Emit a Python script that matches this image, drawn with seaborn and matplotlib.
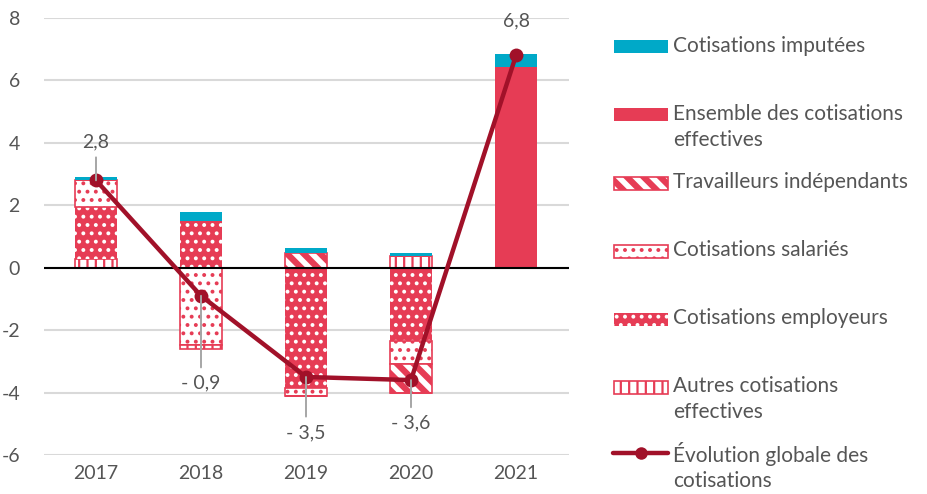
import matplotlib
matplotlib.use("Agg")
import matplotlib.pyplot as plt
import seaborn as sns
import numpy as np
from matplotlib.patches import Rectangle
from matplotlib.lines import Line2D

# values
years = ["2017", "2018", "2019", "2020", "2021"]
imputees = [0.10, 0.27, 0.17, 0.08, 0.41]
ensemble = [0.0, 0.0, 0.0, 0.0, 6.44]
travailleurs = [0.0, 0.0, 0.46, -0.91, 0.0]
salaries = [0.88, -2.47, -0.25, -0.75, 0.0]
employeurs = [1.65, 1.50, -3.85, -2.34, 0.0]
autres = [0.28, -0.13, 0.0, 0.38, 0.0]
evolution = [2.8, -0.9, -3.5, -3.6, 6.8]
evolution_labels = ["2,8", "- 0,9", "- 3,5", "- 3,6", "6,8"]
yticks = [-6, -4, -2, 0, 2, 4, 6, 8]

RED = "#E63C55"
CYAN = "#00A9C8"
DARK = "#A11129"
GREY_TXT = "#555555"

sns.set_theme(style="white")
plt.rcParams["font.family"] = ["Lato", "DejaVu Sans"]
plt.rcParams["hatch.linewidth"] = 1.6

W, H = 927, 494
fig = plt.figure(figsize=(W / 100, H / 100), dpi=100)
ax = fig.add_axes([43.5 / W, 1 - 455 / H, 525 / W, 437 / H])

# style per series: (values, face, edge, hatch, hatch width)
series = {
    "autres": (autres, "white", RED, "||", 1.6),
    "employeurs": (employeurs, RED, "white", "..", 1.6),
    "salaries": (salaries, "white", RED, "..", 1.6),
    "travailleurs": (travailleurs, "white", RED, "\\\\", 4.5),
    "ensemble": (ensemble, RED, RED, None, 1.6),
    "imputees": (imputees, CYAN, CYAN, None, 1.6),
}
pos_order = ["autres", "employeurs", "salaries", "travailleurs", "ensemble", "imputees"]
neg_order = ["employeurs", "salaries", "travailleurs", "autres"]

x = np.arange(len(years))
width = 0.4
pos_base = np.zeros(len(years))
neg_base = np.zeros(len(years))


def set_hw(artist, hw):
    if hasattr(artist, "set_hatch_linewidth"):
        artist.set_hatch_linewidth(hw)


def draw(name, vals, base):
    _, face, edge, hatch, hw = series[name]
    lw = 0 if face in (RED, CYAN) else 1.2
    with plt.rc_context({"hatch.linewidth": hw}):
        bars = ax.bar(x, vals, width, bottom=base, color=face, edgecolor=edge,
                      hatch=hatch, linewidth=lw, zorder=2)
    for b in bars:
        set_hw(b, hw)


for name in pos_order:
    v = np.clip(np.array(series[name][0]), 0, None)
    if v.any():
        draw(name, v, pos_base)
    pos_base += v
for name in neg_order:
    v = np.clip(np.array(series[name][0]), None, 0)
    if v.any():
        draw(name, v, neg_base)
    neg_base += v

sns.lineplot(x=x, y=evolution, ax=ax, color=DARK, linewidth=3.2, marker="o",
             markersize=10, markeredgewidth=0, zorder=4)

offsets = [(0, 28), (0, -63), (0, -40), (0, -31), (0, 25)]
for xi, yv, lab, off in zip(x, evolution, evolution_labels, offsets):
    ax.annotate(lab, (xi, yv), xytext=off, textcoords="offset points",
                ha="center", va="center", fontsize=14, color=GREY_TXT,
                arrowprops=dict(arrowstyle="-", color="#A6A6A6", lw=1.4,
                                shrinkA=3, shrinkB=0) if xi != 4 else None,
                zorder=5)

ax.set_xlim(-0.5, 4.5)
ax.set_ylim(-6, 8)
ax.set_yticks(yticks)
ax.set_yticklabels([str(t) for t in yticks])
ax.set_xticks(x)
ax.set_xticklabels(years)
ax.tick_params(axis="both", length=0, labelsize=14, colors=GREY_TXT)
ax.tick_params(axis="y", pad=17)
ax.tick_params(axis="x", pad=7)
ax.grid(axis="y", color="#D9D9D9", linewidth=1.5, zorder=0)
ax.set_axisbelow(True)
ax.axhline(0, color="black", linewidth=1.5, zorder=3)
for s in ax.spines.values():
    s.set_visible(False)

# legend drawn on the right
legend_items = [
    ("imputees", "Cotisations imputées"),
    ("ensemble", "Ensemble des cotisations\neffectives"),
    ("travailleurs", "Travailleurs indépendants"),
    ("salaries", "Cotisations salariés"),
    ("employeurs", "Cotisations employeurs"),
    ("autres", "Autres cotisations\neffectives"),
]
for i, (name, label) in enumerate(legend_items):
    yc = 47 + 68 * i
    _, face, edge, hatch, hw = series[name]
    if face == "white":
        fc, ec = "white", RED
    else:
        fc, ec = face, edge
    with plt.rc_context({"hatch.linewidth": hw}):
        r = Rectangle((614 / W, 1 - (yc + 6.5) / H), 54 / W, 13 / H,
                      transform=fig.transFigure, facecolor=fc, edgecolor=ec,
                      hatch=hatch, linewidth=0 if face != "white" else 1.2)
    set_hw(r, hw)
    fig.add_artist(r)
    fig.text(673 / W, 1 - (yc - 11) / H, label, fontsize=15, color=GREY_TXT,
             va="top", ha="left", linespacing=1.4)

yl = 453
fig.add_artist(Line2D([613 / W, 668 / W], [1 - yl / H] * 2, transform=fig.transFigure,
                      color=DARK, linewidth=3.2))
fig.add_artist(Line2D([640.5 / W], [1 - yl / H], transform=fig.transFigure,
                      color=DARK, marker="o", markersize=9, markeredgewidth=0))
fig.text(673 / W, 1 - (yl - 11) / H, "Évolution globale des\ncotisations", fontsize=15,
         color=GREY_TXT, va="top", ha="left", linespacing=1.3)

fig.savefig("out.png", dpi=100)
